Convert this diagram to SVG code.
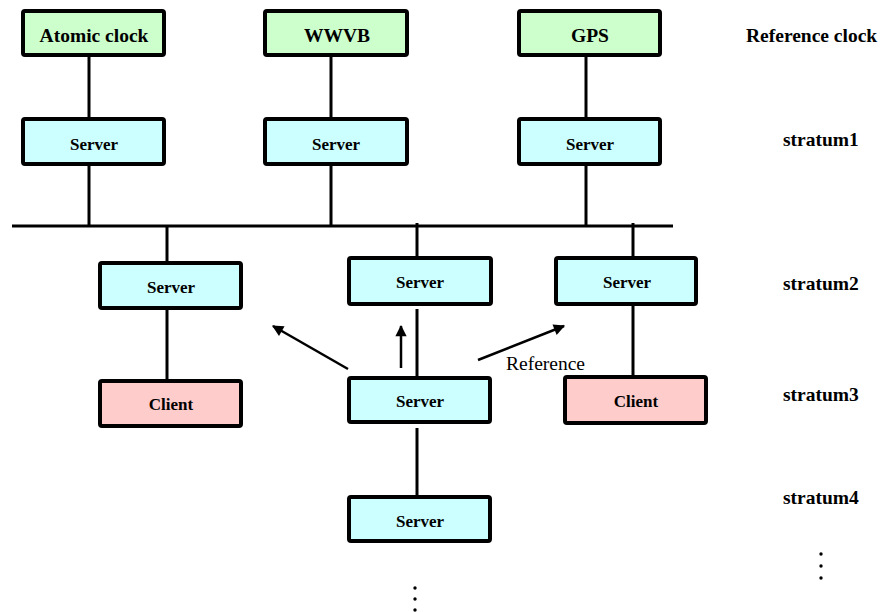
<svg xmlns="http://www.w3.org/2000/svg" width="884" height="612" viewBox="0 0 884 612">
<defs>
<style>
.box{stroke:#000;stroke-width:4}
.ref{fill:#ccffcc}
.srv{fill:#ccffff}
.cli{fill:#ffcccc}
.lbl{font-family:"Liberation Serif","Times New Roman",serif;font-weight:bold;fill:#000}
.big{font-size:19.5px}
.sm{font-size:17px}
.ln{stroke:#000;stroke-width:3;fill:none}
.ar{stroke:#000;stroke-width:2.5;fill:none}
</style>
<marker id="ah" viewBox="0 0 10 10" refX="9" refY="5" markerWidth="5" markerHeight="4.5" markerUnits="strokeWidth" orient="auto">
<path d="M0,0 L10,5 L0,10 z" fill="#000"/>
</marker>
</defs>
<rect width="884" height="612" fill="#fff"/>
<g id="connectors">
<line class="ln" x1="89" y1="57" x2="89" y2="117"/>
<line class="ln" x1="89" y1="166" x2="89" y2="226"/>
<line class="ln" x1="331" y1="57" x2="331" y2="117"/>
<line class="ln" x1="331" y1="166" x2="331" y2="226"/>
<line class="ln" x1="586" y1="57" x2="586" y2="117"/>
<line class="ln" x1="586" y1="166" x2="586" y2="226"/>
<line class="ln" x1="12" y1="226" x2="673" y2="226"/>
<line class="ln" x1="167" y1="226" x2="167" y2="261"/>
<line class="ln" x1="167" y1="310" x2="167" y2="379"/>
<line class="ln" x1="417" y1="223" x2="417" y2="256"/>
<line class="ln" x1="417" y1="309" x2="417" y2="381"/>
<line class="ln" x1="417" y1="428" x2="417" y2="495"/>
<line class="ln" x1="633" y1="223" x2="633" y2="256"/>
<line class="ln" x1="633" y1="300" x2="633" y2="375"/>
<line class="ar" x1="348" y1="369" x2="273" y2="326" marker-end="url(#ah)"/>
<line class="ar" x1="401" y1="368" x2="401" y2="326" marker-end="url(#ah)"/>
<line class="ar" x1="478" y1="360" x2="564" y2="326" marker-end="url(#ah)"/>
</g>
<g id="atomic"><rect class="box ref" x="23" y="11" width="141" height="44" rx="2"/><text class="lbl big" x="94" y="42" text-anchor="middle">Atomic clock</text></g>
<g id="wwvb"><rect class="box ref" x="265" y="11" width="142" height="44" rx="2"/><text class="lbl big" x="337" y="42" text-anchor="middle">WWVB</text></g>
<g id="gps"><rect class="box ref" x="519" y="11" width="141" height="44" rx="2"/><text class="lbl big" x="590" y="42" text-anchor="middle">GPS</text></g>
<g id="s1a"><rect class="box srv" x="23" y="119" width="141" height="45" rx="2"/><text class="lbl sm" x="94" y="150" text-anchor="middle">Server</text></g>
<g id="s1b"><rect class="box srv" x="265" y="119" width="142" height="45" rx="2"/><text class="lbl sm" x="336" y="150" text-anchor="middle">Server</text></g>
<g id="s1c"><rect class="box srv" x="519" y="119" width="141" height="45" rx="2"/><text class="lbl sm" x="590" y="150" text-anchor="middle">Server</text></g>
<g id="s2a"><rect class="box srv" x="100" y="263" width="141" height="45" rx="2"/><text class="lbl sm" x="171" y="293" text-anchor="middle">Server</text></g>
<g id="s2b"><rect class="box srv" x="349" y="258" width="142" height="46" rx="2"/><text class="lbl sm" x="420" y="288" text-anchor="middle">Server</text></g>
<g id="s2c"><rect class="box srv" x="556" y="258" width="140" height="46" rx="2"/><text class="lbl sm" x="627" y="288" text-anchor="middle">Server</text></g>
<g id="c3a"><rect class="box cli" x="100" y="381" width="141" height="45" rx="2"/><text class="lbl sm" x="171" y="410" text-anchor="middle">Client</text></g>
<g id="s3b"><rect class="box srv" x="349" y="378" width="141" height="44" rx="2"/><text class="lbl sm" x="420" y="407" text-anchor="middle">Server</text></g>
<g id="c3c"><rect class="box cli" x="565" y="377" width="141" height="46" rx="2"/><text class="lbl sm" x="636" y="407" text-anchor="middle">Client</text></g>
<g id="s4"><rect class="box srv" x="349" y="497" width="141" height="44" rx="2"/><text class="lbl sm" x="420" y="527" text-anchor="middle">Server</text></g>
<g id="labels">
<text class="lbl big" x="746" y="42">Reference clock</text>
<text class="lbl big" x="783" y="146">stratum1</text>
<text class="lbl big" x="783" y="290">stratum2</text>
<text class="lbl big" x="783" y="401">stratum3</text>
<text class="lbl big" x="783" y="504">stratum4</text>
<text x="506" y="370" font-family="Liberation Serif, Times New Roman, serif" font-size="19.5" fill="#000">Reference</text>
</g>
<g id="dots" fill="#000">
<circle cx="821" cy="554" r="1.7"/><circle cx="821" cy="566" r="1.7"/><circle cx="821" cy="578" r="1.7"/>
<circle cx="415" cy="588" r="1.7"/><circle cx="415" cy="599" r="1.7"/><circle cx="415" cy="610" r="1.7"/>
</g>
</svg>
